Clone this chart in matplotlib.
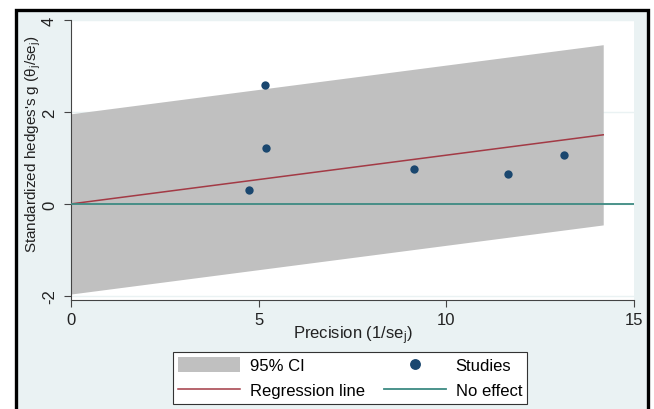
import numpy as np
import matplotlib.pyplot as plt
from matplotlib.patches import Rectangle, Patch
from matplotlib.lines import Line2D

plt.rcParams['font.family'] = ['Liberation Sans', 'DejaVu Sans']
plt.rcParams['mathtext.fontset'] = 'custom'
plt.rcParams['mathtext.rm'] = 'Liberation Sans'
plt.rcParams['mathtext.it'] = 'Liberation Sans'
plt.rcParams['axes.unicode_minus'] = False

# studies: precision (1/se) and standardized effect (theta/se)
precision = [4.74, 5.17, 5.20, 9.15, 11.63, 13.14]
std_effect = [0.30, 2.59, 1.22, 0.75, 0.64, 1.06]

# Egger regression line through origin, with 95% CI band
reg_intercept = 0.0
reg_slope = 0.106
ci_half = 1.96
line_x = [0.0, 14.18]

xticks = [0, 5, 10, 15]
yticks = [-2, 0, 2, 4]

bg = '#eaf2f3'
navy = '#1a476f'
maroon = '#a33a45'
teal = '#3d8a82'
band = '#c0c0c0'
fs = 12

fig = plt.figure(figsize=(6.54, 4.10), dpi=100)
fig.patch.set_facecolor('white')
fig.patches.append(Rectangle((15.5 / 654, -0.05), (648 - 15.5) / 654, 1.05 - 10.5 / 410,
                             transform=fig.transFigure, facecolor=bg,
                             edgecolor='black', linewidth=2.4, zorder=-5))

ax = fig.add_axes([71 / 654, 1 - 301 / 410, (634 - 71) / 654, (301 - 21) / 410])
ax.set_zorder(2)
ax.set_facecolor('white')

lx = np.array(line_x)
ly = reg_intercept + reg_slope * lx
ax.fill_between(lx, ly - ci_half, ly + ci_half, color=band, linewidth=0, zorder=2)
ax.plot(lx, ly, color=maroon, linewidth=1.1, zorder=3)
ax.axhline(0, color=teal, linewidth=1.3, zorder=3)
ax.scatter(precision, std_effect, s=36, color=navy, zorder=4, linewidths=0)

ax.set_xlim(0, 15)
ax.set_ylim(-2.09, 4)
ax.set_xticks(xticks)
ax.set_yticks(yticks)
ax.yaxis.grid(True, color=bg, linewidth=1.0, zorder=1)
ax.set_axisbelow(True)

for s in ['top', 'right']:
    ax.spines[s].set_visible(False)
for s in ['left', 'bottom']:
    ax.spines[s].set_color('#444444')
    ax.spines[s].set_linewidth(0.8)

ax.tick_params(axis='both', direction='out', length=5, width=0.8, color='#444444',
               labelsize=fs, labelcolor='#222222')
ax.tick_params(axis='x', pad=3.5)
ax.tick_params(axis='y', pad=5)
for lab in ax.get_yticklabels():
    lab.set_rotation(90)
    lab.set_va('center')

ax.set_xlabel('Precision (1/se$_\\mathregular{j}$)', fontsize=12, color='#222222')
ax.set_ylabel("Standardized hedges's g (\u03b8$_\\mathregular{j}$/se$_\\mathregular{j}$)",
              fontsize=11, color='#222222')
ax.yaxis.set_label_coords(-0.05, 0.56)
ax.xaxis.set_label_coords(0.5, -0.082)

handles = [Patch(facecolor=band, edgecolor='none'),
           Line2D([], [], color=maroon, linewidth=1.1),
           Line2D([], [], marker='o', linestyle='none', color=navy, markersize=6.8),
           Line2D([], [], color=teal, linewidth=1.3)]
labels = ['95% CI', 'Regression line', 'Studies', 'No effect']
leg = fig.legend(handles, labels, ncol=2, loc='lower left',
                 bbox_to_anchor=(173 / 654, 5.5 / 410),
                 fontsize=fs, frameon=True, fancybox=False, framealpha=1,
                 handlelength=3.7, handleheight=1.0, handletextpad=0.6,
                 columnspacing=1.15, labelspacing=0.54, borderpad=0.3, borderaxespad=0)
leg.get_frame().set_edgecolor('#333333')
leg.get_frame().set_facecolor('white')
leg.get_frame().set_linewidth(0.8)

fig.savefig('out.png', dpi=100)
